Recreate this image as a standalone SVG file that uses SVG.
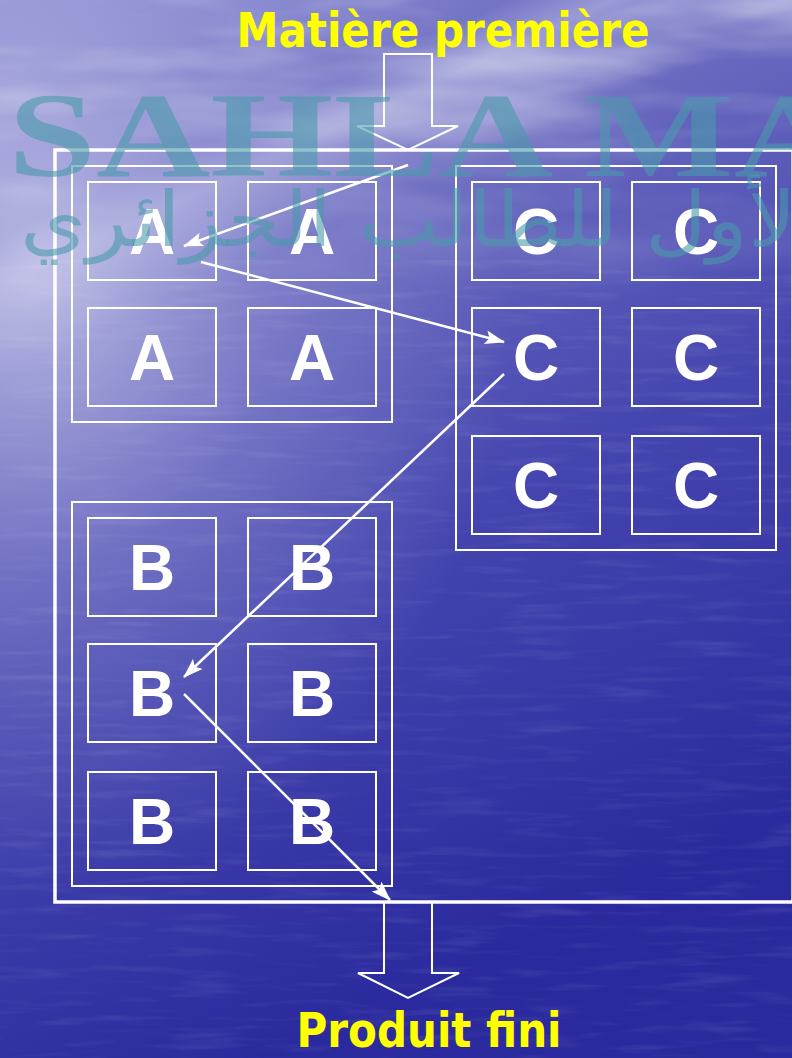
<svg xmlns="http://www.w3.org/2000/svg" width="792" height="1058" viewBox="0 0 792 1058">
<defs>
<linearGradient id="bg" x1="0" y1="0" x2="0.35" y2="1">
<stop offset="0" stop-color="#8c8cd2"/>
<stop offset="0.2" stop-color="#7474c6"/>
<stop offset="0.24" stop-color="#9a9ad6"/>
<stop offset="0.32" stop-color="#6a6ac0"/>
<stop offset="0.6" stop-color="#4646b0"/>
<stop offset="1" stop-color="#2a2a9e"/>
</linearGradient>
<radialGradient id="glow" cx="0.05" cy="0.25" r="0.6">
<stop offset="0" stop-color="#d0d0ee" stop-opacity="0.75"/>
<stop offset="0.5" stop-color="#b0b0e0" stop-opacity="0.3"/>
<stop offset="1" stop-color="#b0b0e0" stop-opacity="0"/>
</radialGradient>
<linearGradient id="fade" x1="0" y1="0" x2="0" y2="1">
<stop offset="0" stop-color="#fff" stop-opacity="1"/>
<stop offset="1" stop-color="#fff" stop-opacity="0"/>
</linearGradient>
<mask id="topmask"><rect x="0" y="0" width="792" height="320" fill="url(#fade)"/></mask>
<filter id="clouds" x="0" y="0" width="100%" height="100%">
<feTurbulence type="fractalNoise" baseFrequency="0.003 0.014" numOctaves="4" seed="5"/>
<feColorMatrix type="matrix" values="0 0 0 0 1  0 0 0 0 1  0 0 0 0 1  0 0 0 1.8 -0.8"/>
</filter>
<filter id="water" x="0" y="0" width="100%" height="100%">
<feTurbulence type="fractalNoise" baseFrequency="0.012 0.12" numOctaves="3" seed="8"/>
<feColorMatrix type="matrix" values="0 0 0 0 1  0 0 0 0 1  0 0 0 0 1  0 0 0 1.4 -0.72"/>
</filter>
<marker id="arr" viewBox="0 0 20 14" refX="19" refY="7" markerWidth="20" markerHeight="14" markerUnits="userSpaceOnUse" orient="auto">
<path d="M0,0 L20,7 L0,14 L4,7 Z" fill="#fff"/>
</marker>
<style>
.box{fill:none;stroke:#fff;stroke-width:2}
.grp{fill:none;stroke:#fff;stroke-width:2}
.frame{fill:none;stroke:#fff;stroke-width:3.5}
.lbl{font-family:"Liberation Sans",Arial,sans-serif;font-weight:bold;font-size:64px;fill:#fff;text-anchor:middle}
.title{font-family:"DejaVu Sans",Tahoma,sans-serif;font-weight:bold;font-size:48px;fill:#ffff00;text-anchor:middle}
.conn{fill:none;stroke:#fff;stroke-width:2.5;marker-end:url(#arr)}
.blk{fill:none;stroke:#fff;stroke-width:2;stroke-linejoin:miter}
.wm{fill:#4a9aaa;fill-opacity:0.6}
</style>
</defs>

<g id="background">
<rect x="0" y="0" width="792" height="1058" fill="url(#bg)"/>
<rect x="0" y="0" width="792" height="1058" fill="url(#glow)"/>
<rect x="0" y="0" width="792" height="320" filter="url(#clouds)" mask="url(#topmask)" opacity="0.7"/>
<rect x="0" y="260" width="792" height="798" filter="url(#water)" opacity="0.15"/>
</g>

<g id="title-top"><text class="title" x="443" y="47" textLength="413" lengthAdjust="spacingAndGlyphs">Matière première</text></g>
<g id="title-bottom"><text class="title" x="429" y="1047" textLength="265" lengthAdjust="spacingAndGlyphs">Produit fini</text></g>

<g id="frame"><rect class="frame" x="55" y="150" width="738" height="752"/></g>

<g id="arrow-in"><path class="blk" d="M384,54 H432 V126 H458 L408,150 L357,126 H384 Z"/></g>
<g id="arrow-out"><path class="blk" d="M384,903 V973 H358 L408,998 L459,973 H432 V903"/></g>

<g id="group-A"><rect class="grp" x="72" y="166" width="320" height="256"/></g>
<g id="A1"><rect class="box" x="88" y="182" width="128" height="98"/><text class="lbl" x="152" y="254">A</text></g>
<g id="A2"><rect class="box" x="248" y="182" width="128" height="98"/><text class="lbl" x="312" y="254">A</text></g>
<g id="A3"><rect class="box" x="88" y="308" width="128" height="98"/><text class="lbl" x="152" y="380">A</text></g>
<g id="A4"><rect class="box" x="248" y="308" width="128" height="98"/><text class="lbl" x="312" y="380">A</text></g>

<g id="group-C"><rect class="grp" x="456" y="166" width="320" height="384"/></g>
<g id="C1"><rect class="box" x="472" y="182" width="128" height="98"/><text class="lbl" x="536" y="254">C</text></g>
<g id="C2"><rect class="box" x="632" y="182" width="128" height="98"/><text class="lbl" x="696" y="254">C</text></g>
<g id="C3"><rect class="box" x="472" y="308" width="128" height="98"/><text class="lbl" x="536" y="380">C</text></g>
<g id="C4"><rect class="box" x="632" y="308" width="128" height="98"/><text class="lbl" x="696" y="380">C</text></g>
<g id="C5"><rect class="box" x="472" y="436" width="128" height="98"/><text class="lbl" x="536" y="508">C</text></g>
<g id="C6"><rect class="box" x="632" y="436" width="128" height="98"/><text class="lbl" x="696" y="508">C</text></g>

<g id="group-B"><rect class="grp" x="72" y="502" width="320" height="384"/></g>
<g id="B1"><rect class="box" x="88" y="518" width="128" height="98"/><text class="lbl" x="152" y="590">B</text></g>
<g id="B2"><rect class="box" x="248" y="518" width="128" height="98"/><text class="lbl" x="312" y="590">B</text></g>
<g id="B3"><rect class="box" x="88" y="644" width="128" height="98"/><text class="lbl" x="152" y="716">B</text></g>
<g id="B4"><rect class="box" x="248" y="644" width="128" height="98"/><text class="lbl" x="312" y="716">B</text></g>
<g id="B5"><rect class="box" x="88" y="772" width="128" height="98"/><text class="lbl" x="152" y="844">B</text></g>
<g id="B6"><rect class="box" x="248" y="772" width="128" height="98"/><text class="lbl" x="312" y="844">B</text></g>

<g id="connectors">
<line class="conn" x1="408" y1="165" x2="184" y2="246"/>
<line class="conn" x1="201" y1="262" x2="504" y2="342"/>
<line class="conn" x1="504" y1="374" x2="184" y2="677"/>
<line class="conn" x1="184" y1="694" x2="390" y2="900"/>
</g>

<g id="watermark">
<text class="wm" x="8" y="176" font-family="Liberation Serif, serif" font-weight="bold" font-size="120" textLength="840" lengthAdjust="spacingAndGlyphs">SAHLA MA</text>
<text class="wm" x="20" y="246" font-family="DejaVu Sans, sans-serif" font-size="76" fill-opacity="0.5" direction="rtl" text-anchor="end" textLength="800" lengthAdjust="spacingAndGlyphs">الأول للطالب الجزائري</text>
</g>
</svg>
